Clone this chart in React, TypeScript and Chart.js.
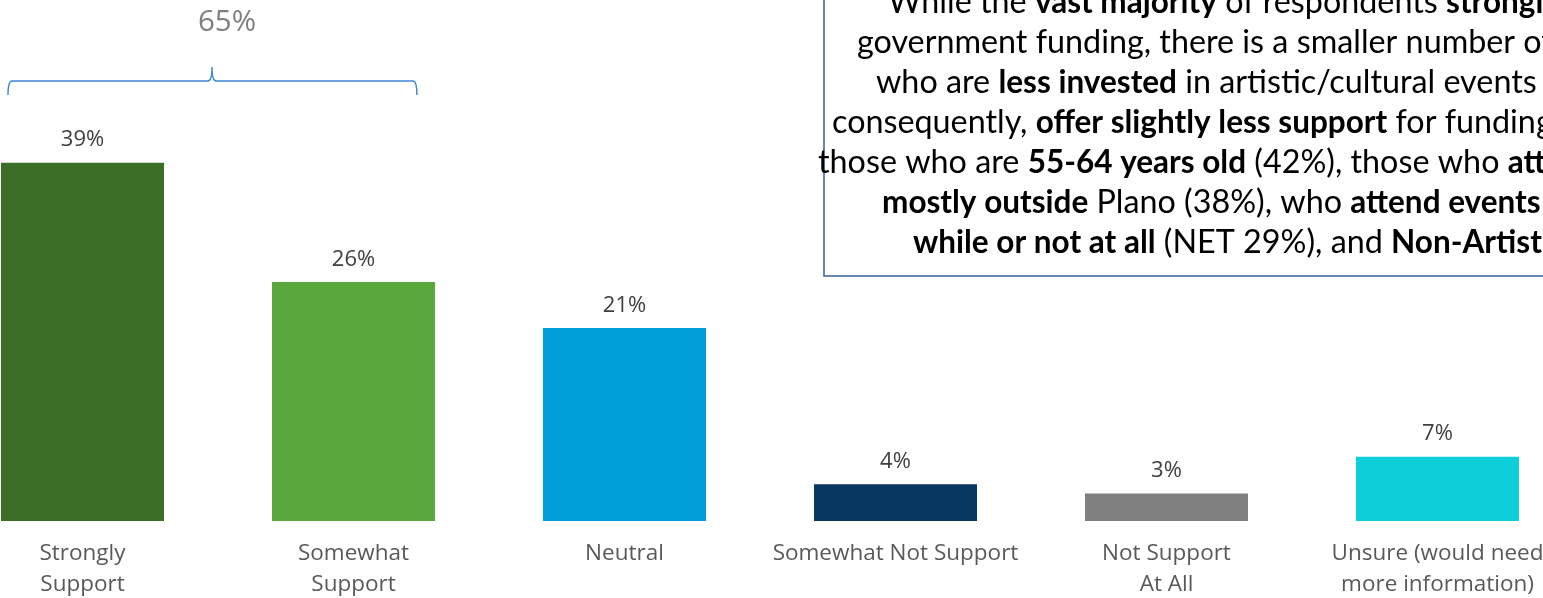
import React, { useEffect, useRef } from "react";
import { Chart, registerables } from "chart.js";

Chart.register(...registerables);

const categories: string[][] = [
  ["Strongly", "Support"],
  ["Somewhat", "Support"],
  ["Neutral"],
  ["Somewhat Not Support"],
  ["Not Support", "At All"],
  ["Unsure (would need", "more information)"],
];
const values: number[] = [39, 26, 21, 4, 3, 7];
const barColors: string[] = ["#3B6E27", "#5AA73C", "#009FDA", "#08375F", "#808080", "#0CCFDA"];
const netLabel = "65%";

type Seg = { t: string; b?: boolean };
const noteLines: Seg[][] = [
  [{ t: "While the " }, { t: "vast majority", b: true }, { t: " of respondents " }, { t: "strongly support", b: true }],
  [{ t: "government funding, there is a smaller number of residents" }],
  [{ t: "who are " }, { t: "less invested", b: true }, { t: " in artistic/cultural events and," }],
  [{ t: "consequently, " }, { t: "offer slightly less support", b: true }, { t: " for funding:" }],
  [{ t: "those who are " }, { t: "55-64 years old", b: true }, { t: " (42%), those who " }, { t: "attend events", b: true }],
  [{ t: "mostly outside", b: true }, { t: " Plano (38%), who " }, { t: "attend events once in a", b: true }],
  [{ t: "while or not at all", b: true }, { t: " (NET 29%), and " }, { t: "Non-Artists", b: true }],
];

// layout (page pixels)
const SHIFT = 53; // canvas is shifted left so the first category is partly cropped
const noteStartX = [888, 857, 876, 832, 818, 882, 913];
const NOTE_FONT = "Lato";
const NOTE_SIZE = 32.3;
const NOTE_BOLD_SIZE = 31.5;

const annotations = {
  id: "annotations",
  afterDatasetsDraw(chart: any) {
    const ctx = chart.ctx;
    const meta = chart.getDatasetMeta(0);
    const xs = chart.scales.x;
    ctx.save();
    // value labels
    ctx.fillStyle = "#404040";
    ctx.font = "22px 'Open Sans'";
    ctx.textAlign = "center";
    ctx.textBaseline = "alphabetic";
    meta.data.forEach((bar: any, i: number) => {
      ctx.fillText(values[i] + "%", bar.x, bar.y - 16.5);
    });

    // brace over first two categories
    const l = xs.getPixelForValue(-0.275);
    const r = xs.getPixelForValue(1.234);
    const m = xs.getPixelForValue(0.478);
    const yH = 81;
    const yB = 95;
    const yT = 67;
    ctx.strokeStyle = "#3D85D6";
    ctx.lineWidth = 1.4;
    ctx.beginPath();
    ctx.moveTo(l, yB);
    ctx.quadraticCurveTo(l, yH, l + 4, yH);
    ctx.lineTo(m - 4, yH);
    ctx.quadraticCurveTo(m, yH, m, yT);
    ctx.quadraticCurveTo(m, yH, m + 4, yH);
    ctx.lineTo(r - 4, yH);
    ctx.quadraticCurveTo(r, yH, r, yB);
    ctx.stroke();

    ctx.fillStyle = "#7F7F7F";
    ctx.font = "29.5px 'Open Sans'";
    ctx.textAlign = "center";
    ctx.fillText(netLabel, m + 15, 31);

    // note box
    ctx.strokeStyle = "#41679E";
    ctx.lineWidth = 1.6;
    ctx.strokeRect(824 + SHIFT, -10, 900, 286);

    ctx.fillStyle = "#000000";
    ctx.textAlign = "left";
    noteLines.forEach((line, i) => {
      let x = noteStartX[i] + SHIFT;
      const y = 13 + i * 40;
      line.forEach((s) => {
        ctx.font = s.b ? "bold " + NOTE_BOLD_SIZE + "px " + NOTE_FONT : NOTE_SIZE + "px " + NOTE_FONT;
        ctx.fillText(s.t, x, y);
        x += ctx.measureText(s.t).width;
      });
    });
    ctx.restore();
  },
};

export default function App() {
  const ref = useRef<HTMLCanvasElement>(null);
  useEffect(() => {
    if (!ref.current) return;
    const chart = new Chart(ref.current, {
      type: "bar",
      data: {
        labels: categories,
        datasets: [
          {
            data: values,
            backgroundColor: barColors,
            categoryPercentage: 1,
            barPercentage: 0.6015,
          },
        ],
      },
      options: {
        responsive: false,
        animation: false,
        devicePixelRatio: 1,
        layout: { padding: 0 },
        plugins: { legend: { display: false }, tooltip: { enabled: false } },
        scales: {
          x: {
            grid: { display: false, drawTicks: false },
            border: { display: false },
            ticks: {
              color: "#595959",
              font: { family: "'Open Sans'", size: 22.5, lineHeight: 1.38 },
              padding: 17,
              maxRotation: 0,
              autoSkip: false,
            },
            afterFit: (s: any) => {
              s.height = 77;
            },
          },
          y: { display: false, min: 0, max: 56.7 },
        },
      },
      plugins: [annotations],
    });
    return () => chart.destroy();
  }, []);
  return (
    <div style={{ position: "fixed", left: 0, top: 0, width: 1543, height: 598, overflow: "hidden", background: "#fff" }}>
      <canvas ref={ref} width={1626} height={598} style={{ position: "absolute", left: -SHIFT, top: 0, width: 1626, height: 598 }} />
    </div>
  );
}
